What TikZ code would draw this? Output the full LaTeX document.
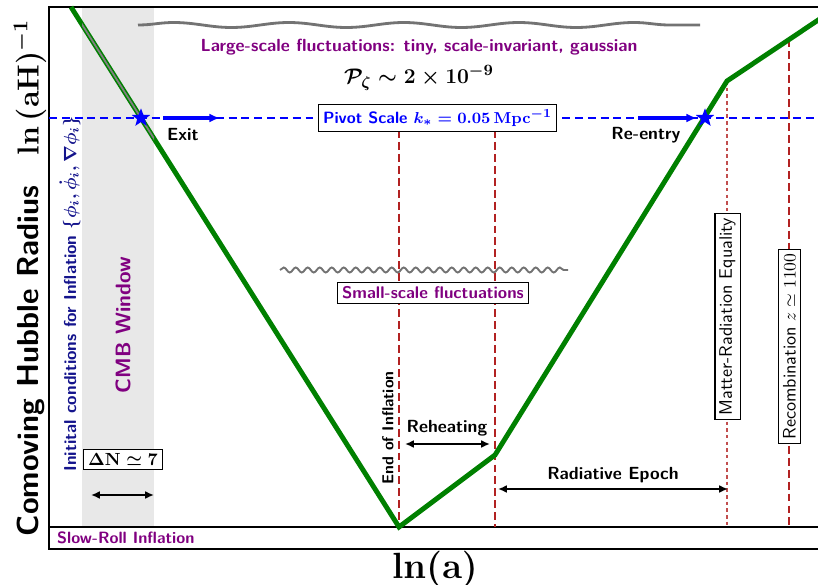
\documentclass[tikz,border=0pt]{standalone}
\usepackage{amsmath,amssymb}
\usetikzlibrary{arrows.meta,decorations.pathmorphing,shapes.geometric}

\definecolor{epochpurple}{RGB}{128,0,128}
\definecolor{initnavy}{RGB}{20,20,140}
\definecolor{curvegreen}{RGB}{0,128,0}
\definecolor{epochred}{RGB}{178,34,34}

\begin{document}
\begin{tikzpicture}[font=\sffamily\bfseries,
  epochline/.style={draw=epochred, line width=1.1pt, dash pattern=on 4.5pt off 2.3pt},
  eqline/.style={draw=epochred!80, line width=0.9pt, dash pattern=on 2pt off 1.8pt},
  boxlbl/.style={draw=black, fill=white, line width=0.6pt, inner sep=2.5pt},
  span/.style={{Latex[length=5pt,width=4.5pt]}-{Latex[length=5pt,width=4.5pt]}, line width=1.2pt},
  cross/.style={-{Latex[length=6pt,width=5pt]}, blue, line width=2.2pt},
  pivotstar/.style={star, star points=5, star point ratio=2.4, fill=blue, inner sep=0pt, minimum size=11pt}]
\useasboundingbox (0,0) rectangle (16.36,11.68);

% CMB window and frame
\fill[gray!18] (1.64,1.14) rectangle (3.08,11.54);
\draw[line width=0.6pt] (0.98,0.70) rectangle (16.6,11.54);
\coordinate (floor) at (0.98,1.14);
\draw[line width=0.6pt] (floor) -- (16.6,1.14);

% Hubble radius curve
\coordinate (start) at (1.42,11.54);
\coordinate (endinf) at (7.98,1.14);
\coordinate (endreh) at (9.90,2.58);
\coordinate (eq) at (14.54,10.06);
\coordinate (rec) at (15.78,10.89);
\coordinate (today) at (16.5,11.37);

% pivot scale
\coordinate (pivL) at (0.98,9.32);
\coordinate (pivR) at (16.6,9.32);

% epochs
\draw[epochline] (endinf |- pivL) -- (endinf);
\draw[epochline] (endreh |- pivL) -- (endreh |- floor);
\draw[eqline] (eq) -- (eq |- floor);
\draw[epochline] (rec) -- (rec |- floor);

\draw[blue, line width=0.8pt, dash pattern=on 4.5pt off 2.8pt] (pivL) -- (pivR);

\draw[curvegreen, line width=2.8pt] (start) -- (endinf) -- (endreh) -- (eq) -- (today);
\begin{scope}
  \clip (1.64,1.14) rectangle (3.08,11.54);
  \draw[gray, line width=1pt] (start) -- (endinf);
\end{scope}

% fluctuations
\draw[black!55, line width=1.6pt, decorate, decoration={snake, amplitude=0.05cm, segment length=2.3cm}] (2.76,11.18) -- (14.0,11.18);
\draw[black!55, line width=1.1pt, decorate, decoration={snake, amplitude=0.05cm, segment length=0.24cm}] (5.60,6.28) -- (11.36,6.28);

\node[text=epochpurple] (largelbl) at (8.38,10.74) {Large-scale fluctuations: tiny, scale-invariant, gaussian};
\node[font=\fontsize{12.8}{15}\selectfont\boldmath] (power) at (8.38,10.12) {$\mathcal{P}_\zeta\sim 2\times10^{-9}$};
\node[boxlbl, text=epochpurple, font=\fontsize{9.6}{11}\sffamily\bfseries] (smalllbl) at (8.66,5.82) {Small-scale fluctuations};

% horizon exit and re-entry
\node[pivotstar] (exit) at (2.82,9.32) {};
\node[pivotstar] (reentry) at (14.10,9.32) {};
\draw[cross] (exit) ++(0.44,0) -- ++(1.14,0);
\draw[cross] (reentry) ++(-1.34,0) -- ++(1.18,0);
\node (exitlbl) at (3.66,8.98) {Exit};
\node (reentrylbl) at (12.92,8.98) {Re-entry};
\node[boxlbl, text=blue, font=\fontsize{9.3}{11}\sffamily\bfseries] (pivot) at (8.75,9.32) {Pivot Scale {\boldmath$k_*=0.05\,\mathrm{Mpc}^{-1}$}};

% epoch labels
\node[rotate=90, font=\small\sffamily\bfseries] (endlbl) at (7.76,3.12) {End of Inflation};
\node (rehlbl) at (8.94,3.12) {Reheating};
\coordinate (rehL) at (8.10,2.80);
\coordinate (rehR) at (9.80,2.80);
\draw[span] (rehL) -- (rehR);
\node (radlbl) at (12.26,2.18) {Radiative Epoch};
\coordinate (radL) at (9.96,1.90);
\coordinate (radR) at (14.56,1.90);
\draw[span] (radL) -- (radR);
\node[boxlbl, rotate=90, font=\fontsize{10.3}{12}\sffamily] (eqlbl) at (14.55,5.35) {Matter-Radiation Equality};
\node[boxlbl, rotate=90, font=\fontsize{10.3}{12}\sffamily] (reclbl) at (15.79,4.75) {Recombination $z\simeq1100$};

% CMB window
\node[rotate=90, text=epochpurple, font=\large\sffamily\bfseries] (cmb) at (2.46,5.18) {CMB Window};
\node[boxlbl, font=\boldmath] (dN) at (2.46,2.49) {$\Delta\mathrm{N}\simeq7$};
\coordinate (dNL) at (1.82,1.78);
\coordinate (dNR) at (3.08,1.78);
\draw[span] (dNL) -- (dNR);
\node[anchor=west, text=epochpurple, font=\fontsize{9.3}{11}\sffamily\bfseries] (srlbl) at (1.02,0.92) {Slow-Roll Inflation};

% axes
\node[rotate=90, text=initnavy, font=\fontsize{9.8}{11}\sffamily\bfseries] (initlbl) at (1.40,5.80) {Initital conditions for Inflation {\boldmath$\{\phi_i,\dot{\phi}_i,\nabla\phi_i\}$}};
\node[rotate=90, font=\LARGE\sffamily\bfseries] (ylbl) at (0.60,6.12) {Comoving Hubble Radius\quad{\boldmath$\ln\,(\mathrm{aH})^{-1}$}};
\node[font=\huge\boldmath] (xlbl) at (8.70,0.30) {$\ln(\mathrm{a})$};
\end{tikzpicture}
\end{document}
